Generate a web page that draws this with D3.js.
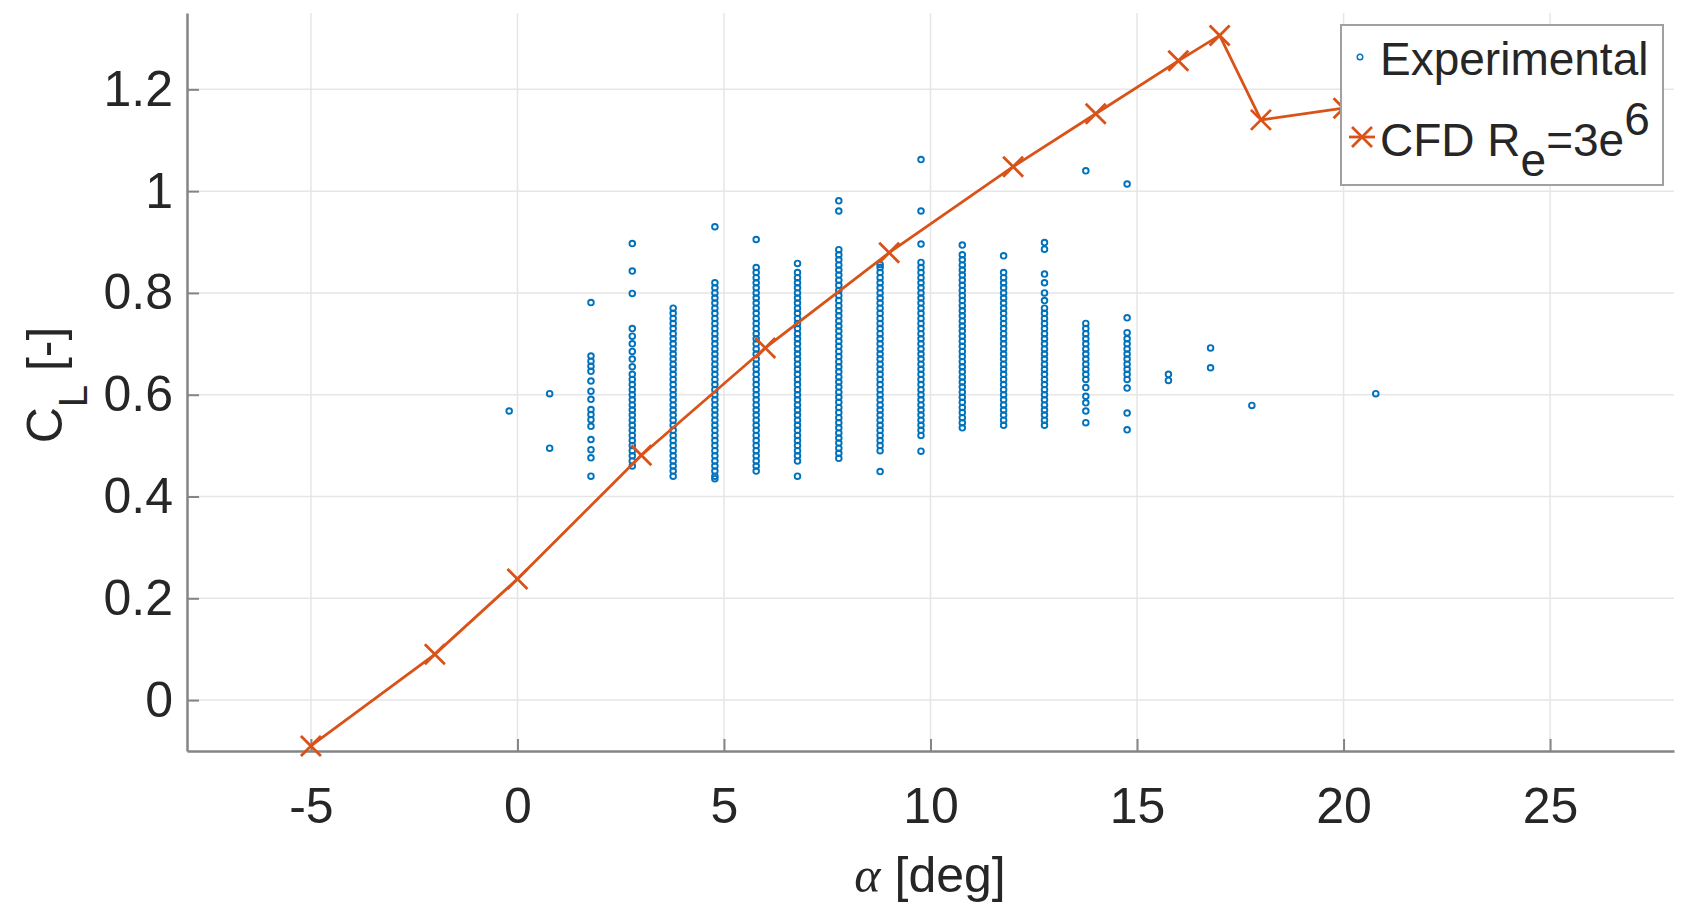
<!DOCTYPE html>
<head>
  <meta charset="utf-8">
  <style>
    body { margin: 0; background: #fff; }
    text { font-family: "Liberation Sans", Arial, sans-serif; fill: #262626; }
  </style>
  <script src="https://cdn.jsdelivr.net/npm/d3@7"></script>
</head>
<body>
<script>

  // CFD curve, Re = 3e6
  const cfdAlpha = [-5, -2, 0, 3, 6, 9, 12, 14, 16, 17, 18, 20];
  const cfdCL = [-0.09, 0.09, 0.238, 0.481, 0.692, 0.879, 1.048, 1.152, 1.256, 1.306, 1.140, 1.163];

  // experimental points, one list of CL values per angle column
  const expAlpha = [-0.2, 0.78, 1.78, 2.78, 3.77, 4.78, 5.78, 6.78, 7.78, 8.78,
                    9.77, 10.77, 11.77, 12.76, 13.76, 14.76, 15.76, 16.78, 17.78, 20.78];
  const expCL = [
    [0.568],
    [0.602, 0.495],
    [0.781, 0.676, 0.666, 0.656, 0.646, 0.627, 0.607, 0.591, 0.571, 0.561, 0.551, 0.538, 0.512, 0.492, 0.476, 0.44],
    [0.897, 0.843, 0.799, 0.73, 0.715, 0.70, 0.685, 0.67, 0.655, 0.64, 0.63, 0.62, 0.61, 0.60, 0.59, 0.58, 0.57,
     0.56, 0.55, 0.54, 0.53, 0.52, 0.51, 0.50, 0.49, 0.48, 0.47, 0.46],
    [0.77, 0.76, 0.75, 0.74, 0.73, 0.72, 0.71, 0.70, 0.69, 0.68, 0.67, 0.66, 0.65, 0.64, 0.63, 0.62, 0.61, 0.60,
     0.59, 0.58, 0.57, 0.56, 0.55, 0.54, 0.53, 0.52, 0.51, 0.50, 0.49, 0.48, 0.47, 0.46, 0.45, 0.44],
    [0.93, 0.82, 0.81, 0.80, 0.79, 0.78, 0.77, 0.76, 0.75, 0.74, 0.73, 0.72, 0.71, 0.70, 0.69, 0.68, 0.67, 0.66,
     0.65, 0.64, 0.63, 0.62, 0.61, 0.60, 0.59, 0.58, 0.57, 0.56, 0.55, 0.54, 0.53, 0.52, 0.51, 0.50, 0.49, 0.48,
     0.47, 0.46, 0.45, 0.44, 0.435],
    [0.905, 0.85, 0.84, 0.83, 0.82, 0.81, 0.80, 0.79, 0.78, 0.77, 0.76, 0.75, 0.74, 0.73, 0.72, 0.71, 0.70, 0.69,
     0.68, 0.67, 0.66, 0.65, 0.64, 0.63, 0.62, 0.61, 0.60, 0.59, 0.58, 0.57, 0.56, 0.55, 0.54, 0.53, 0.52, 0.51,
     0.50, 0.49, 0.48, 0.47, 0.46, 0.45],
    [0.858, 0.84, 0.83, 0.82, 0.81, 0.80, 0.79, 0.78, 0.77, 0.76, 0.75, 0.74, 0.73, 0.72, 0.71, 0.70, 0.69, 0.68,
     0.67, 0.66, 0.65, 0.64, 0.63, 0.62, 0.61, 0.60, 0.59, 0.58, 0.57, 0.56, 0.55, 0.54, 0.53, 0.52, 0.51, 0.50,
     0.49, 0.48, 0.47, 0.44],
    [0.981, 0.961, 0.885, 0.875, 0.865, 0.855, 0.845, 0.835, 0.825, 0.815, 0.805, 0.795, 0.785, 0.775, 0.765,
     0.755, 0.745, 0.735, 0.725, 0.715, 0.705, 0.695, 0.685, 0.675, 0.665, 0.655, 0.645, 0.635, 0.625, 0.615,
     0.605, 0.595, 0.585, 0.575, 0.565, 0.555, 0.545, 0.535, 0.525, 0.515, 0.505, 0.495, 0.485, 0.475],
    [0.856, 0.85, 0.84, 0.83, 0.82, 0.81, 0.80, 0.79, 0.78, 0.77, 0.76, 0.75, 0.74, 0.73, 0.72, 0.71, 0.70, 0.69,
     0.68, 0.67, 0.66, 0.65, 0.64, 0.63, 0.62, 0.61, 0.60, 0.59, 0.58, 0.57, 0.56, 0.55, 0.54, 0.53, 0.52, 0.51,
     0.50, 0.49, 0.449],
    [1.062, 0.961, 0.896, 0.86, 0.85, 0.84, 0.83, 0.82, 0.81, 0.80, 0.79, 0.78, 0.77, 0.76, 0.75, 0.74, 0.73, 0.72,
     0.71, 0.70, 0.69, 0.68, 0.67, 0.66, 0.65, 0.64, 0.63, 0.62, 0.61, 0.60, 0.59, 0.58, 0.57, 0.56, 0.55, 0.54,
     0.53, 0.52, 0.489],
    [0.894, 0.875, 0.865, 0.855, 0.845, 0.835, 0.825, 0.815, 0.805, 0.795, 0.785, 0.775, 0.765, 0.755, 0.745,
     0.735, 0.725, 0.715, 0.705, 0.695, 0.685, 0.675, 0.665, 0.655, 0.645, 0.635, 0.625, 0.615, 0.605, 0.595,
     0.585, 0.575, 0.565, 0.555, 0.545, 0.535],
    [0.873, 0.84, 0.83, 0.82, 0.81, 0.80, 0.79, 0.78, 0.77, 0.76, 0.75, 0.74, 0.73, 0.72, 0.71, 0.70, 0.69, 0.68,
     0.67, 0.66, 0.65, 0.64, 0.63, 0.62, 0.61, 0.60, 0.59, 0.58, 0.57, 0.56, 0.55, 0.54],
    [0.899, 0.886, 0.837, 0.82, 0.80, 0.785, 0.77, 0.76, 0.75, 0.74, 0.73, 0.72, 0.71, 0.70, 0.69, 0.68, 0.67, 0.66,
     0.65, 0.64, 0.63, 0.62, 0.61, 0.60, 0.59, 0.58, 0.57, 0.56, 0.55, 0.54],
    [1.04, 0.74, 0.73, 0.72, 0.71, 0.70, 0.69, 0.68, 0.67, 0.66, 0.65, 0.64, 0.63, 0.614, 0.597, 0.584, 0.568, 0.545],
    [1.014, 0.751, 0.722, 0.71, 0.70, 0.69, 0.68, 0.67, 0.66, 0.65, 0.64, 0.63, 0.613, 0.564, 0.531],
    [0.64, 0.628],
    [0.692, 0.653],
    [0.579],
    [0.602]
  ];

  const xTicks = [-5, 0, 5, 10, 15, 20, 25];
  const yTicks = [0, 0.2, 0.4, 0.6, 0.8, 1, 1.2];

  const W = 1682, H = 908;
  const m = { left: 187, right: 1674, top: 13, bottom: 751 };

  const blue = '#0072BD', red = '#D95319';

  const svg = d3.select('body').append('svg')
      .attr('width', W)
      .attr('height', H);

  const x = d3.scaleLinear().domain([-8, 28]).range([m.left, m.right]);
  const y = d3.scaleLinear().domain([-0.1, 1.35]).range([m.bottom, m.top]);

  // grid
  svg.append('g').selectAll('line')
    .data(xTicks)
    .enter().append('line')
      .attr('x1', d => x(d)).attr('x2', d => x(d))
      .attr('y1', m.top).attr('y2', m.bottom)
      .attr('stroke', '#e6e6e6').attr('stroke-width', 1.5);

  svg.append('g').selectAll('line')
    .data(yTicks)
    .enter().append('line')
      .attr('x1', m.left).attr('x2', m.right)
      .attr('y1', d => y(d)).attr('y2', d => y(d))
      .attr('stroke', '#e6e6e6').attr('stroke-width', 1.5);

  // axes
  const xAxis = svg.append('g')
      .attr('transform', `translate(0,${m.bottom})`)
      .call(d3.axisBottom(x).tickValues(xTicks).tickFormat(d => String(d))
        .tickSizeInner(-12).tickSizeOuter(0).tickPadding(36));

  const yAxis = svg.append('g')
      .attr('transform', `translate(${m.left},0)`)
      .call(d3.axisLeft(y).tickValues(yTicks).tickFormat(d3.format('~g'))
        .tickSizeInner(-12).tickSizeOuter(0).tickPadding(14));

  [xAxis, yAxis].forEach(a => {
    a.select('.domain').attr('stroke', '#858585').attr('stroke-width', 2.5);
    a.selectAll('.tick line').attr('stroke', '#858585').attr('stroke-width', 2);
    a.selectAll('.tick text')
      .attr('font-family', '"Liberation Sans", Arial, sans-serif')
      .attr('font-size', 50)
      .attr('fill', '#262626');
  });

  // experimental scatter
  const expPoints = [];
  expAlpha.forEach((a, i) => {
    expCL[i].forEach(c => expPoints.push([a, c]));
  });

  svg.append('g').selectAll('circle')
    .data(expPoints)
    .enter().append('circle')
      .attr('cx', d => x(d[0]))
      .attr('cy', d => y(d[1]))
      .attr('r', 2.8)
      .attr('fill', 'none')
      .attr('stroke', blue)
      .attr('stroke-width', 1.9);

  // CFD line + x markers
  const cfd = cfdAlpha.map((a, i) => [a, cfdCL[i]]);

  svg.append('path')
    .datum(cfd)
    .attr('d', d3.line().x(d => x(d[0])).y(d => y(d[1])))
    .attr('fill', 'none')
    .attr('stroke', red)
    .attr('stroke-width', 2.8);

  const xMark = 'M-10,-10L10,10M-10,10L10,-10';

  svg.append('g').selectAll('path')
    .data(cfd)
    .enter().append('path')
      .attr('transform', d => `translate(${x(d[0])},${y(d[1])})`)
      .attr('d', xMark)
      .attr('stroke', red)
      .attr('stroke-width', 2.8);

  // axis titles
  svg.append('text')
    .attr('x', 930).attr('y', 892)
    .attr('text-anchor', 'middle')
    .attr('font-size', 50)
    .call(t => {
      t.append('tspan')
        .attr('font-family', '"Liberation Serif", "DejaVu Serif", serif')
        .attr('font-style', 'italic')
        .text('α');
      t.append('tspan').attr('dx', 14).text('[deg]');
    });

  svg.append('text')
    .attr('transform', 'translate(62,385) rotate(-90)')
    .attr('text-anchor', 'middle')
    .attr('font-size', 50)
    .call(t => {
      t.append('tspan').text('C');
      t.append('tspan').attr('font-size', 40).attr('dy', 25).text('L');
      t.append('tspan').attr('dy', -25).text(' [-]');
    });

  // legend
  const lg = svg.append('g');
  lg.append('rect')
    .attr('x', 1341).attr('y', 25)
    .attr('width', 322).attr('height', 160)
    .attr('fill', '#fff')
    .attr('stroke', '#a0a0a0')
    .attr('stroke-width', 2);

  lg.append('circle')
    .attr('cx', 1360).attr('cy', 57).attr('r', 2.8)
    .attr('fill', 'none').attr('stroke', blue).attr('stroke-width', 1.4);
  lg.append('text')
    .attr('x', 1380).attr('y', 75)
    .attr('font-size', 46)
    .text('Experimental');

  lg.append('line')
    .attr('x1', 1349).attr('x2', 1375)
    .attr('y1', 137).attr('y2', 137)
    .attr('stroke', red).attr('stroke-width', 2.8);
  lg.append('path')
    .attr('transform', 'translate(1362,137)')
    .attr('d', xMark)
    .attr('stroke', red).attr('stroke-width', 2.8);
  lg.append('text')
    .attr('x', 1380).attr('y', 156)
    .attr('font-size', 46)
    .call(t => {
      t.append('tspan').text('CFD R');
      t.append('tspan').attr('dy', 20).text('e');
      t.append('tspan').attr('dy', -20).text('=3e');
      t.append('tspan').attr('dy', -21).text('6');
    });

</script>
</body>
